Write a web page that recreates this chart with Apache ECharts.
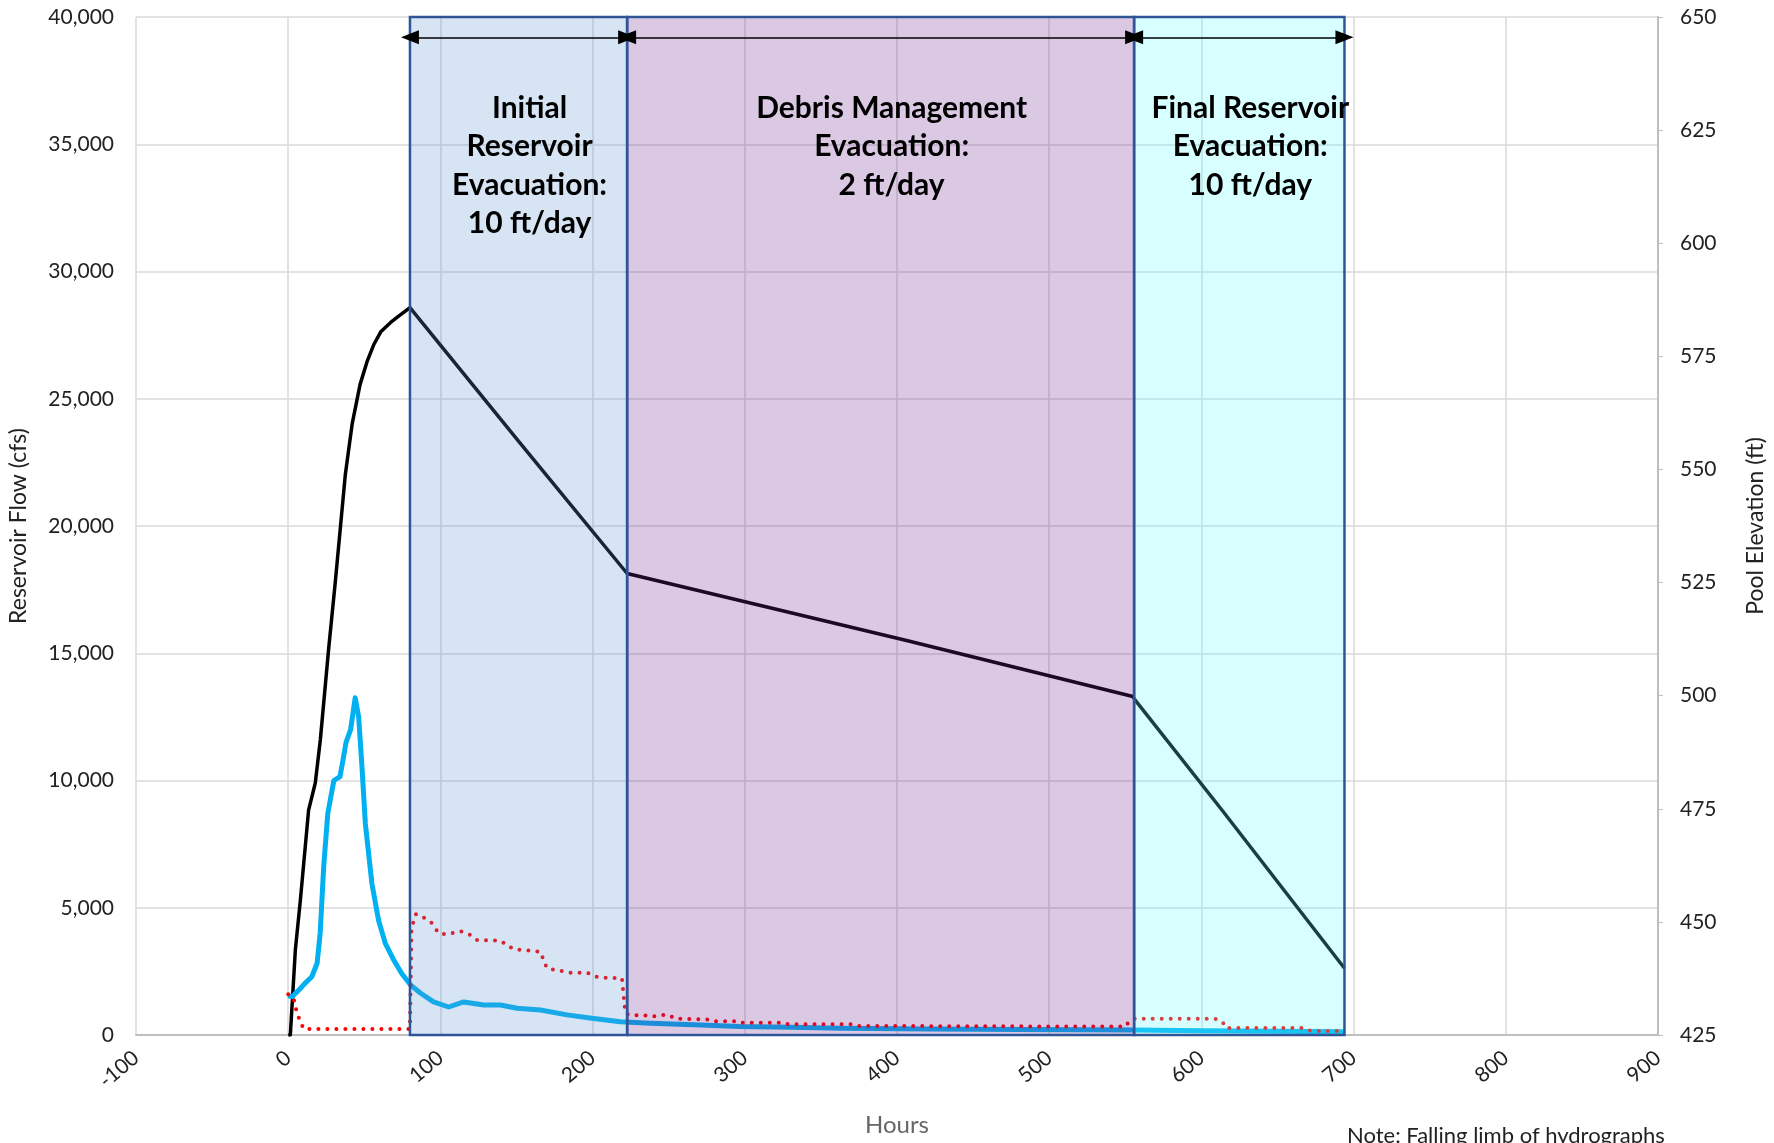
<!DOCTYPE html>
<html>
<head>
<meta charset="utf-8">
<script src="https://cdn.jsdelivr.net/npm/echarts@6/dist/echarts.min.js"></script>
<style>
html, body { margin: 0; padding: 0; background: #fff; }
#main { width: 1774px; height: 1143px; }
</style>
</head>
<body>
<div id="main"></div>
<script>
// inflow hydrograph (blue), cfs
var inflowHours = [0, 2.5, 8, 11, 15.5, 19, 21, 23.3, 26, 30, 34, 36, 38, 41, 44, 46.3, 48.5, 50.7, 55, 59.4, 63.8, 69.3, 74.8, 80.7, 86.8, 95.5, 105.4, 115.3, 128.4, 139.4, 150.4, 165.7, 183.2, 200.7, 218.2, 238, 270.8, 297, 330, 363, 420, 480, 556, 600, 650, 694]
var inflowCfs = [1550, 1500, 1830, 2030, 2290, 2820, 4000, 6600, 8700, 10000, 10150, 10800, 11500, 12000, 13250, 12500, 10500, 8300, 5950, 4500, 3600, 2950, 2400, 1950, 1650, 1300, 1100, 1300, 1180, 1180, 1050, 980, 790, 650, 520, 460, 390, 330, 300, 270, 240, 220, 200, 170, 150, 130]

// outflow (red dotted), cfs
var outflowHours = [0, 3.6, 5.8, 8, 10.1, 80, 81, 84, 90, 94.5, 98.8, 104.3, 113.1, 119.7, 124.1, 139.4, 143.8, 148.1, 165.7, 167.8, 170, 185.4, 196.3, 200.7, 204, 219.3, 221.5, 224.8, 235.8, 238.4, 245.6, 250, 254.4, 275, 280, 296, 298, 325, 329, 370, 373, 550, 552.7, 555, 609, 614, 616, 667, 672, 694]
var outflowCfs = [1600, 1440, 850, 525, 235, 235, 4200, 4750, 4585, 4390, 4000, 3955, 4085, 3930, 3730, 3705, 3535, 3365, 3275, 2945, 2620, 2450, 2450, 2320, 2265, 2225, 850, 785, 760, 720, 785, 785, 640, 615, 540, 540, 485, 485, 420, 420, 355, 330, 550, 640, 640, 510, 275, 275, 157, 157]

// pool elevation (black), ft
var poolHours = [0, 1.4, 4.7, 8, 13.4, 17.8, 21.1, 26.5, 30.9, 37.5, 42, 47.2, 52, 56.1, 61, 67.3, 73, 80, 151.3, 222.7, 405.6, 555, 556.5, 614, 694]
var poolFt = [425, 425, 443.8, 454.8, 474.7, 480.7, 490.2, 510.1, 525, 548.75, 560, 568.75, 574, 577.5, 580.5, 582.5, 584, 585.75, 556.25, 527, 512.25, 499.8, 499, 474.5, 439.75]

// evacuation phases
var phaseNames = ['Initial\nReservoir\nEvacuation:\n10 ft/day', 'Debris Management\nEvacuation:\n2 ft/day', 'Final Reservoir\nEvacuation:\n10 ft/day']
var phaseStart = [80, 222.7, 555.8]
var phaseEnd = [222.7, 555.8, 694]
var phaseColors = ['rgba(91,147,207,0.25)', 'rgba(111,39,147,0.25)', 'rgba(95,255,255,0.25)']

function pairs(xs, ys) {
    return xs.map(function (x, i) { return [x, ys[i]] })
}

var myChart = echarts.init(document.getElementById('main'))

var font = 'Lato'

var option = {
    backgroundColor: '#fff',
    animation: false,
    grid: { left: 136, right: 116, top: 17, bottom: 108, outerBoundsMode: 'none' },
    xAxis: {
        type: 'value', min: -100, max: 900, interval: 100,
        name: 'Hours', nameLocation: 'middle', nameGap: 78,
        nameTextStyle: { fontFamily: font, fontSize: 24, color: '#666' },
        axisLine: { lineStyle: { color: '#BFBFBF', width: 2 } },
        axisTick: { show: false },
        axisLabel: { rotate: 40, margin: 20, fontFamily: font, fontSize: 21, color: '#222' },
        splitLine: { show: true, lineStyle: { color: '#D9D9D9', width: 1.5 } }
    },
    yAxis: [
        {
            type: 'value', min: 0, max: 40000, interval: 5000,
            name: 'Reservoir Flow (cfs)', nameLocation: 'middle', nameGap: 106, nameRotate: 90,
            nameTextStyle: { fontFamily: font, fontSize: 23, color: '#222' },
            axisLine: { show: false },
            axisTick: { show: false },
            axisLabel: {
                margin: 22, fontFamily: font, fontSize: 21, color: '#222',
                formatter: function (v) { return v.toLocaleString('en-US') }
            },
            splitLine: { show: true, lineStyle: { color: '#D9D9D9', width: 1.5 } }
        },
        {
            type: 'value', min: 425, max: 650, interval: 25, position: 'right',
            name: 'Pool Elevation (ft)', nameLocation: 'middle', nameGap: 86, nameRotate: 90,
            nameTextStyle: { fontFamily: font, fontSize: 23, color: '#222' },
            axisLine: { show: true, lineStyle: { color: '#BFBFBF', width: 2 } },
            axisTick: { show: true, length: 5, lineStyle: { color: '#BFBFBF' } },
            axisLabel: { margin: 22, fontFamily: font, fontSize: 21, color: '#222' },
            splitLine: { show: false }
        }
    ],
    graphic: [{
        type: 'text', left: 1347, top: 1125,
        style: { text: 'Note: Falling limb of hydrographs', font: '22px Lato', fill: '#222' }
    }],
    series: [
        {
            name: 'Pool Elevation', type: 'line', yAxisIndex: 1, z: 2,
            showSymbol: false, data: pairs(poolHours, poolFt),
            lineStyle: { color: '#000', width: 3.5, join: 'round' }
        },
        {
            name: 'Inflow', type: 'line', yAxisIndex: 0, z: 3,
            showSymbol: false, data: pairs(inflowHours, inflowCfs),
            lineStyle: { color: '#00B0F0', width: 5, join: 'round' }
        },
        {
            name: 'Outflow', type: 'line', yAxisIndex: 0, z: 4,
            showSymbol: false, data: pairs(outflowHours, outflowCfs),
            lineStyle: { color: '#FF0000', width: 4, type: [0, 9], cap: 'round' }
        },
        {
            // phase boxes sit on top of the curves, semi transparent
            name: 'phases', type: 'line', yAxisIndex: 0, z: 10, data: [],
            markArea: {
                silent: true, z: 10,
                data: phaseStart.map(function (s, i) {
                    return [{
                        xAxis: s,
                        itemStyle: { color: phaseColors[i], borderColor: '#2F5597', borderWidth: 2.5 },
                        label: {
                            show: true, position: 'insideTop', distance: 73, offset: [11, 0],
                            formatter: phaseNames[i], fontFamily: font, fontWeight: 'bold',
                            fontSize: 30, lineHeight: 38.5, color: '#000', align: 'center'
                        }
                    }, { xAxis: phaseEnd[i] }]
                })
            }
        },
        {
            name: 'arrows', type: 'line', yAxisIndex: 0, z: 11, data: [],
            markLine: {
                silent: true, z: 11,
                symbol: ['triangle', 'triangle'], symbolSize: [14, 18],
                label: { show: false },
                lineStyle: { color: '#000', width: 1.5, type: 'solid' },
                data: phaseStart.map(function (s, i) {
                    return [{ coord: [s, 39200] }, { coord: [phaseEnd[i], 39200] }]
                })
            }
        }
    ]
}

myChart.setOption(option)
</script>
</body>
</html>
